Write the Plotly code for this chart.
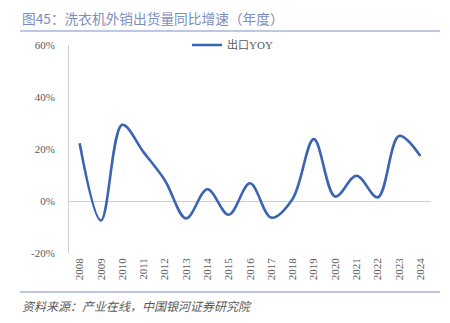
import plotly.graph_objects as go

years = [str(y) for y in range(2008, 2025)]
export_yoy = [22.2, -7.5, 29.3, 18.8, 8.0, -6.7, 4.5, -5.3, 6.8, -6.4, 0.8,
              23.8, 1.7, 9.7, 1.4, 25.0, 17.3]
y_ticks = [-20, 0, 20, 40, 60]
y_tick_labels = ["-20%", "0%", "20%", "40%", "60%"]

title_text = "图45：洗衣机外销出货量同比增速（年度）"
source_text = "资料来源：产业在线，中国银河证券研究院"

W, H = 450, 323
L, R, T, B = 69, 19, 45, 70

fig = go.Figure()
fig.add_trace(go.Scatter(
    x=years, y=export_yoy, mode="lines", name="出口YOY",
    line=dict(color="#3B64B2", width=2.6, shape="spline", smoothing=1.0),
))

serif = "Liberation Serif, Noto Sans CJK SC, serif"
fig.update_layout(
    width=W, height=H,
    margin=dict(l=L, r=R, t=T, b=B),
    paper_bgcolor="white", plot_bgcolor="white",
    showlegend=True,
    legend=dict(orientation="h", x=(187 - L) / (W - L - R), xanchor="left",
                y=1.0, yanchor="middle", font=dict(family=serif, size=11, color="#595959"),
                bgcolor="rgba(0,0,0,0)"),
    xaxis=dict(type="category", range=[-0.5, len(years) - 0.5], tickangle=-90,
               showgrid=False, showline=False, ticks="", ticklabelstandoff=2,
               tickfont=dict(family=serif, size=11, color="#595959")),
    yaxis=dict(range=[-20, 60], tickvals=y_ticks, ticktext=y_tick_labels,
               showgrid=False, showline=True, linecolor="#D0D0D0", linewidth=1,
               zeroline=True, zerolinecolor="#D0D0D0", zerolinewidth=1,
               ticks="", ticklabelstandoff=11,
               tickfont=dict(family=serif, size=11, color="#595959")),
    annotations=[
        dict(text=title_text, xref="paper", yref="paper",
             x=(20 - L) / (W - L - R), y=1 + (T - 18) / (H - T - B),
             xanchor="left", yanchor="middle", showarrow=False,
             font=dict(family="Noto Sans CJK SC", size=13.7, color="#7D8DC0")),
        dict(text="<i>" + source_text + "</i>", xref="paper", yref="paper",
             x=(20 - L) / (W - L - R), y=-(305 - (H - B)) / (H - T - B),
             xanchor="left", yanchor="middle", showarrow=False,
             font=dict(family="Noto Sans CJK SC", size=12, color="#595959")),
    ],
    shapes=[
        dict(type="line", xref="paper", yref="paper",
             x0=(20 - L) / (W - L - R), x1=(440 - L) / (W - L - R),
             y0=1 + (T - 31) / (H - T - B), y1=1 + (T - 31) / (H - T - B),
             line=dict(color="#A8B5D8", width=1.5)),
        dict(type="line", xref="paper", yref="paper",
             x0=(20 - L) / (W - L - R), x1=(440 - L) / (W - L - R),
             y0=-(292 - (H - B)) / (H - T - B), y1=-(292 - (H - B)) / (H - T - B),
             line=dict(color="#A8B5D8", width=1.5)),
    ],
)

fig.write_html("out.html")
